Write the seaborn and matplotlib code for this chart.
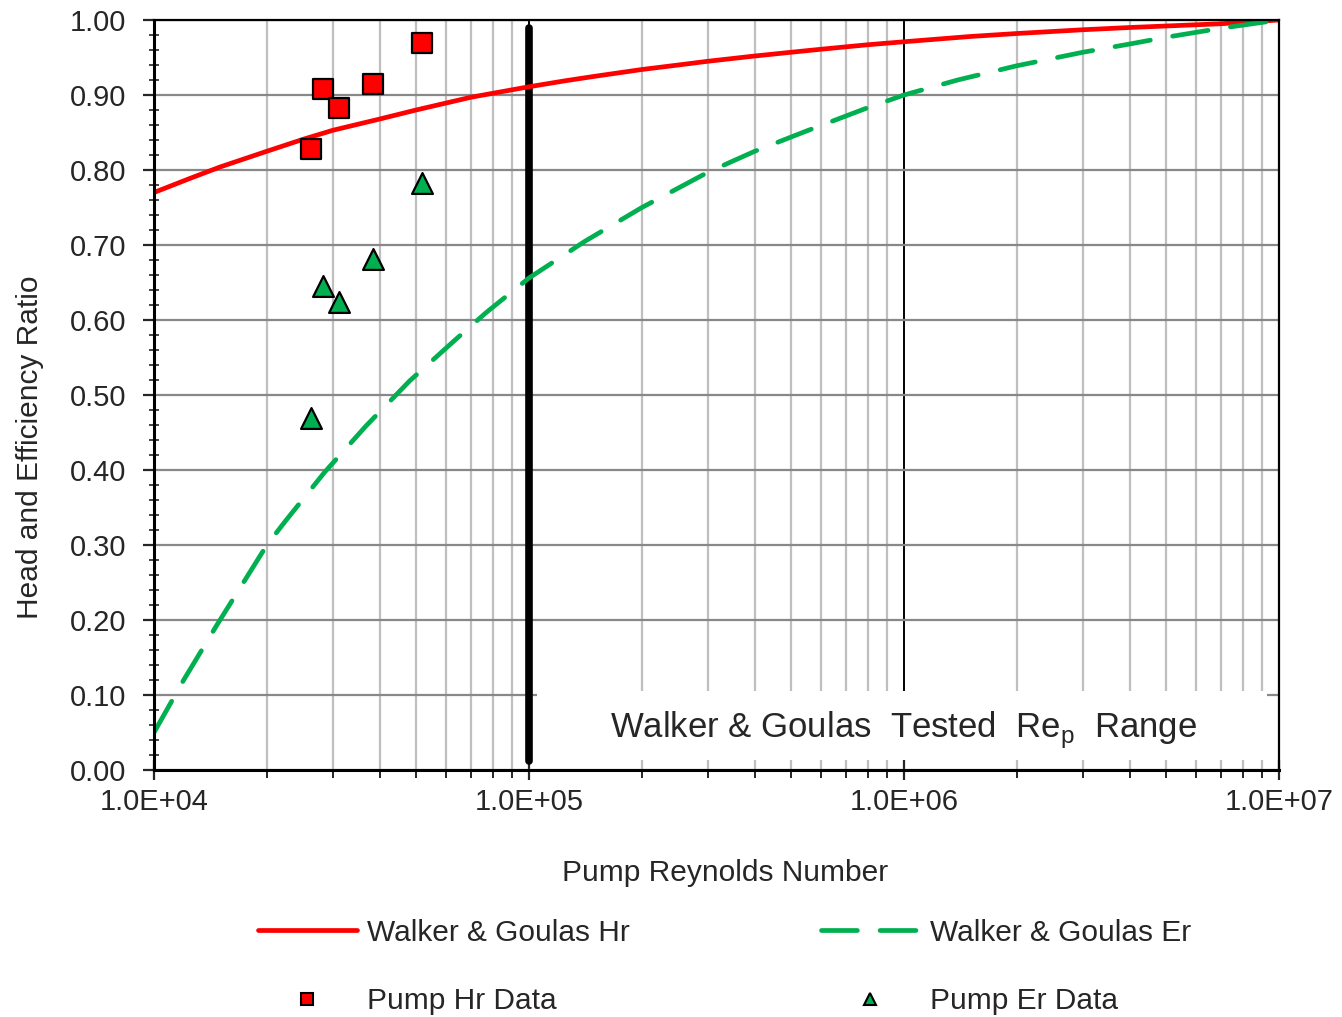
import matplotlib
matplotlib.use("Agg")
import matplotlib.pyplot as plt
import pandas as pd
import seaborn as sns
from matplotlib.lines import Line2D
from matplotlib.patches import Rectangle
from matplotlib.ticker import (FixedLocator, FixedFormatter, LogLocator,
                               MultipleLocator, FormatStrFormatter, NullFormatter)

# Walker & Goulas head-ratio correlation
re_hr = [1e4, 1.25e4, 1.5e4, 2e4, 2.5e4, 3e4, 4e4, 5e4, 7e4, 1e5, 1.25e5, 1.5e5,
         2e5, 2.5e5, 3e5, 4e5, 5e5, 6e5, 8e5, 1e6, 1.5e6, 2e6, 3e6, 4e6, 5e6,
         7e6, 1e7]
hr_curve = [0.770, 0.789, 0.804, 0.825, 0.841, 0.853, 0.868, 0.880, 0.897,
            0.911, 0.919, 0.925, 0.934, 0.940, 0.945, 0.952, 0.957, 0.961,
            0.967, 0.971, 0.978, 0.982, 0.987, 0.990, 0.992, 0.995, 1.000]

# Walker & Goulas efficiency-ratio correlation
re_er = [1.0e4, 1.2e4, 1.47e4, 2.0e4, 2.25e4, 2.85e4, 3.68e4, 4.81e4, 6.34e4,
         7.69e4, 1.0e5, 1.41e5, 2.0e5, 3.0e5, 4.0e5, 5.43e5, 7.9e5, 1.0e6,
         1.39e6, 2.0e6, 3.0e6, 4.0e6, 5.0e6, 7.0e6, 1.0e7]
er_curve = [0.050, 0.120, 0.193, 0.300, 0.333, 0.397, 0.459, 0.519, 0.573,
            0.610, 0.656, 0.705, 0.750, 0.797, 0.825, 0.851, 0.882, 0.900,
            0.920, 0.939, 0.957, 0.968, 0.977, 0.989, 1.000]

# Measured pump data
re_pump = [2.62e4, 2.83e4, 3.11e4, 3.83e4, 5.20e4]
hr_pump = [0.828, 0.908, 0.883, 0.915, 0.969]
er_pump = [0.469, 0.646, 0.624, 0.682, 0.783]

x_tick_values = [1e4, 1e5, 1e6, 1e7]
x_tick_labels = ["1.0E+04", "1.0E+05", "1.0E+06", "1.0E+07"]
tested_range = (1.05e5, 9.3e6)

RED = "#FF0000"
GREEN = "#00B050"

sns.set_style("white")
plt.rcParams["font.family"] = ["Liberation Sans", "DejaVu Sans"]
plt.rcParams["mathtext.fontset"] = "custom"
plt.rcParams["mathtext.rm"] = "Liberation Sans"

hr_df = pd.DataFrame({"Re": re_hr, "ratio": hr_curve})
er_df = pd.DataFrame({"Re": re_er, "ratio": er_curve})
pump_df = pd.DataFrame({"Re": re_pump, "Hr": hr_pump, "Er": er_pump})

fig = plt.figure(figsize=(13.42, 10.17), dpi=100)
ax = fig.add_axes([0.11475, 0.24287, 0.83831, 0.73746])
ax.set_xscale("log")
ax.set_xlim(1e4, 1e7)
ax.set_ylim(0, 1)

# grid
ax.xaxis.set_major_locator(FixedLocator(x_tick_values))
ax.xaxis.set_major_formatter(FixedFormatter(x_tick_labels))
ax.xaxis.set_minor_locator(LogLocator(base=10, subs=range(2, 10)))
ax.xaxis.set_minor_formatter(NullFormatter())
ax.yaxis.set_major_locator(MultipleLocator(0.1))
ax.yaxis.set_minor_locator(MultipleLocator(0.02))
ax.yaxis.set_major_formatter(FormatStrFormatter("%.2f"))
ax.grid(which="minor", axis="x", color="#BFBFBF", linewidth=1.6, zorder=0)
ax.grid(which="major", axis="x", color="black", linewidth=1.4, zorder=0)
ax.grid(which="major", axis="y", color="#888888", linewidth=1.6, zorder=0)
ax.set_axisbelow(True)

# curves
sns.lineplot(data=hr_df, x="Re", y="ratio", ax=ax, color=RED, linewidth=3.4,
             solid_capstyle="round", solid_joinstyle="round", zorder=4)
sns.lineplot(data=er_df, x="Re", y="ratio", ax=ax, color=GREEN, linewidth=3.4,
             linestyle=(0, (7.6, 4.8)), dash_capstyle="round", zorder=4)

# measured points
sns.scatterplot(data=pump_df, x="Re", y="Hr", ax=ax, marker="s", s=15**2,
                color=RED, edgecolor="black", linewidth=1.6, zorder=5)
sns.scatterplot(data=pump_df, x="Re", y="Er", ax=ax, marker="^", s=15**2,
                color=GREEN, edgecolor="black", linewidth=1.6, zorder=5)

# tested range marker and label box
ax.axvline(tested_range[0] / 1.05, ymin=0.012, ymax=0.99, color="black",
           linewidth=5.5, zorder=3)
ax.add_patch(Rectangle((tested_range[0], 0.013), tested_range[1] - tested_range[0],
                       0.092, facecolor="white", edgecolor="none", zorder=2))
ax.text(1.0e6, 0.043, "Walker & Goulas  Tested  Re$_\\mathregular{p}$  Range",
        ha="center", va="baseline", fontsize=25, zorder=6)

for side in ["left", "bottom"]:
    ax.spines[side].set_linewidth(2.2)
for side in ["top", "right"]:
    ax.spines[side].set_linewidth(1.6)
for s in ax.spines.values():
    s.set_color("black")
    s.set_zorder(7)

ax.tick_params(axis="x", which="major", direction="inout", length=14, width=1.6,
               labelsize=21, pad=6)
ax.tick_params(axis="x", which="minor", direction="out", length=6, width=1.4)
ax.tick_params(axis="y", which="major", direction="out", length=8, width=1.6,
               labelsize=21, pad=12)
ax.tick_params(axis="y", which="minor", direction="inout", length=7, width=1.2)
ax.tick_params(bottom=True, left=True, top=False, right=False, which="both")

ax.set_xlabel("Pump Reynolds Number", fontsize=21.5)
ax.set_ylabel("Head and Efficiency Ratio", fontsize=21.5)
ax.xaxis.set_label_coords(0.508, -0.119)
ax.yaxis.set_label_coords(-0.098, 0.43)

handles = [
    Line2D([], [], color=RED, linewidth=3.4, solid_capstyle="round"),
    Line2D([], [], linestyle="none", marker="s", markersize=9,
           markerfacecolor=RED, markeredgecolor="black", markeredgewidth=1.5),
    Line2D([], [], color=GREEN, linewidth=3.4, linestyle=(0, (7.6, 4.8)),
           dash_capstyle="round"),
    Line2D([], [], linestyle="none", marker="^", markersize=9,
           markerfacecolor=GREEN, markeredgecolor="black", markeredgewidth=1.5),
]
labels = ["Walker & Goulas Hr", "Pump Hr Data", "Walker & Goulas Er", "Pump Er Data"]
fig.legend(handles, labels, loc="center", bbox_to_anchor=(724.5 / 1342, 1 - 967 / 1017),
           ncol=2, frameon=False, fontsize=21.5, handlelength=3.3,
           handletextpad=0.35, columnspacing=6.4, labelspacing=1.35)

fig.savefig("out.png", dpi=100)
